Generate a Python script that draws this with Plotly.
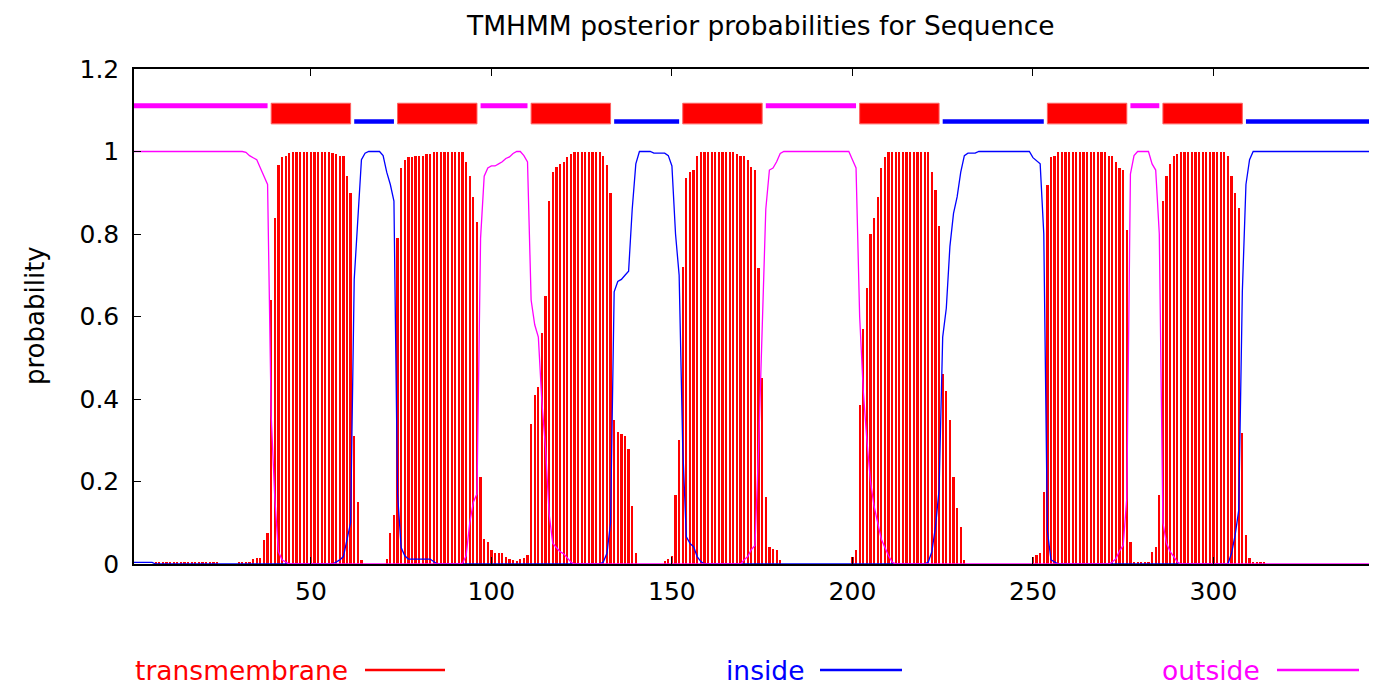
import plotly.graph_objects as go

# residue positions along the sequence
residues = list(range(1, 347))

# posterior probability of transmembrane helix (red impulses), rows of 10 residues
tm_prob = [
    0, 0, 0, 0, 0, 0, 0.004, 0.004, 0.004, 0.004,                              # 1-10
    0.004, 0.004, 0.004, 0.004, 0.004, 0.004, 0.004, 0.004, 0.004, 0.004,      # 11-20
    0.004, 0.004, 0.004, 0.004, 0, 0, 0, 0, 0, 0.004,                          # 21-30
    0.004, 0.004, 0.004, 0.013, 0.015, 0.015, 0.058, 0.076, 0.64, 0.84,        # 31-40
    0.967, 0.987, 0.99, 0.996, 1, 1, 1, 1, 1, 1,                               # 41-50
    1, 1, 1, 1, 1, 0.996, 0.995, 0.99, 0.988, 0.94,                            # 51-60
    0.90, 0.31, 0.15, 0.01, 0, 0, 0, 0, 0, 0,                                  # 61-70
    0.011, 0.076, 0.119, 0.79, 0.96, 0.98, 0.987, 0.987, 0.988, 0.988,         # 71-80
    0.99, 0.995, 0.995, 1, 1, 1, 1, 1, 1, 1,                                   # 81-90
    1, 0.998, 0.975, 0.94, 0.89, 0.83, 0.21, 0.06, 0.054, 0.034,               # 91-100
    0.026, 0.026, 0.026, 0.018, 0.012, 0.01, 0.008, 0.012, 0.014, 0.022,       # 101-110
    0.34, 0.41, 0.43, 0.56, 0.65, 0.88, 0.95, 0.963, 0.97, 0.975,              # 111-120
    0.987, 0.995, 1, 1, 1, 1, 1, 1, 1, 1,                                      # 121-130
    0.99, 0.967, 0.90, 0.35, 0.32, 0.315, 0.31, 0.28, 0.14, 0.027,             # 131-140
    0, 0, 0, 0, 0, 0, 0, 0.008, 0.012, 0.02,                                   # 141-150
    0.167, 0.30, 0.72, 0.935, 0.95, 0.955, 0.99, 1, 1, 1,                      # 151-160
    1, 1, 1, 1, 1, 1, 1, 0.995, 0.99, 0.988,                                   # 161-170
    0.98, 0.963, 0.955, 0.717, 0.45, 0.163, 0.042, 0.037, 0.034, 0.009,        # 171-180
    0, 0, 0, 0, 0, 0, 0, 0, 0, 0,                                              # 181-190
    0, 0, 0, 0, 0, 0, 0, 0, 0, 0.018,                                          # 191-200
    0.034, 0.385, 0.57, 0.67, 0.80, 0.84, 0.89, 0.96, 0.987, 1,                # 201-210
    1, 1, 1, 1, 1, 1, 1, 1, 1, 1,                                              # 211-220
    1, 0.95, 0.907, 0.82, 0.46, 0.42, 0.35, 0.21, 0.135, 0.09,                 # 221-230
    0.009, 0, 0, 0, 0, 0, 0, 0, 0, 0,                                          # 231-240
    0, 0, 0, 0, 0, 0, 0, 0, 0, 0.018,                                          # 241-250
    0.022, 0.026, 0.175, 0.92, 0.987, 0.99, 1, 1, 1, 1,                        # 251-260
    1, 1, 1, 1, 1, 1, 1, 1, 1, 1,                                              # 261-270
    0.99, 0.99, 0.975, 0.96, 0.955, 0.81, 0.054, 0.006, 0.006, 0.006,          # 271-280
    0.006, 0.006, 0.03, 0.042, 0.167, 0.88, 0.94, 0.97, 0.99, 0.995,           # 281-290
    1, 1, 1, 1, 1, 1, 1, 1, 1, 1,                                              # 291-300
    1, 1, 1, 0.99, 0.94, 0.90, 0.862, 0.317, 0.07, 0.014,                      # 301-310
    0.003, 0.003, 0.003, 0.003, 0, 0, 0, 0, 0, 0,                              # 311-320
    0, 0, 0, 0, 0, 0, 0, 0, 0, 0,                                              # 321-330
    0, 0, 0, 0, 0, 0, 0, 0, 0, 0,                                              # 331-340
    0, 0, 0, 0, 0, 0,                                                          # 341-346
]

# posterior probability of inside (blue line)
inside_prob = [
    0.004, 0.004, 0.004, 0.004, 0.004, 0.004, 0, 0, 0, 0,                      # 1-10
    0, 0, 0, 0, 0, 0, 0, 0, 0, 0,                                              # 11-20
    0, 0, 0, 0, 0, 0, 0, 0, 0, 0,                                              # 21-30
    0, 0, 0, 0, 0, 0, 0, 0, 0, 0,                                              # 31-40
    0, 0, 0, 0, 0, 0, 0, 0, 0, 0,                                              # 41-50
    0, 0, 0, 0, 0, 0, 0.005, 0.01, 0.018, 0.057,                               # 51-60
    0.10, 0.69, 0.85, 0.98, 0.996, 1, 1, 1, 1, 0.99,                           # 61-70
    0.95, 0.92, 0.88, 0.17, 0.04, 0.02, 0.012, 0.012, 0.012, 0.012,            # 71-80
    0.012, 0.012, 0.012, 0.006, 0, 0, 0, 0, 0, 0,                              # 81-90
    0, 0, 0, 0, 0, 0, 0, 0, 0, 0,                                              # 91-100
    0, 0, 0, 0, 0, 0, 0, 0, 0, 0,                                              # 101-110
    0, 0, 0, 0, 0, 0, 0, 0, 0, 0,                                              # 111-120
    0, 0, 0, 0, 0, 0, 0, 0, 0, 0,                                              # 121-130
    0.005, 0.026, 0.10, 0.66, 0.685, 0.69, 0.70, 0.71, 0.86, 0.97,             # 131-140
    1, 1, 1, 1, 0.996, 0.996, 0.996, 0.996, 0.99, 0.965,                       # 141-150
    0.80, 0.70, 0.28, 0.066, 0.05, 0.042, 0.018, 0.006, 0, 0,                  # 151-160
    0, 0, 0, 0, 0, 0, 0, 0, 0, 0,                                              # 161-170
    0, 0, 0, 0, 0, 0, 0, 0, 0, 0,                                              # 171-180
    0, 0, 0, 0, 0, 0, 0, 0, 0, 0,                                              # 181-190
    0, 0, 0, 0, 0, 0, 0, 0, 0, 0,                                              # 191-200
    0, 0, 0, 0, 0, 0, 0, 0, 0, 0,                                              # 201-210
    0, 0, 0, 0, 0, 0, 0, 0, 0, 0,                                              # 211-220
    0.005, 0.03, 0.09, 0.18, 0.55, 0.62, 0.77, 0.85, 0.89, 0.95,               # 221-230
    0.99, 0.996, 0.996, 0.996, 1, 1, 1, 1, 1, 1,                               # 231-240
    1, 1, 1, 1, 1, 1, 1, 1, 1, 0.985,                                          # 241-250
    0.978, 0.97, 0.80, 0.08, 0.01, 0.005, 0, 0, 0, 0,                          # 251-260
    0, 0, 0, 0, 0, 0, 0, 0, 0, 0,                                              # 261-270
    0, 0, 0, 0, 0, 0, 0, 0, 0, 0,                                              # 271-280
    0, 0, 0, 0, 0, 0, 0, 0, 0, 0,                                              # 281-290
    0, 0, 0, 0, 0, 0, 0, 0, 0, 0,                                              # 291-300
    0, 0, 0, 0, 0.026, 0.07, 0.13, 0.66, 0.92, 0.98,                           # 301-310
    1, 1, 1, 1, 1, 1, 1, 1, 1, 1,                                              # 311-320
    1, 1, 1, 1, 1, 1, 1, 1, 1, 1,                                              # 321-330
    1, 1, 1, 1, 1, 1, 1, 1, 1, 1,                                              # 331-340
    1, 1, 1, 1, 1, 1,                                                          # 341-346
]

# posterior probability of outside (magenta line)
outside_prob = [
    1, 1, 1, 1, 1, 1, 1, 1, 1, 1,                                              # 1-10
    1, 1, 1, 1, 1, 1, 1, 1, 1, 1,                                              # 11-20
    1, 1, 1, 1, 1, 1, 1, 1, 1, 1,                                              # 21-30
    1, 0.998, 0.99, 0.985, 0.98, 0.96, 0.94, 0.92, 0.36, 0.16,                 # 31-40
    0.03, 0.01, 0.005, 0, 0, 0, 0, 0, 0, 0,                                    # 41-50
    0, 0, 0, 0, 0, 0, 0, 0, 0, 0,                                              # 51-60
    0, 0, 0, 0, 0, 0, 0, 0, 0, 0,                                              # 61-70
    0, 0, 0, 0, 0, 0, 0, 0, 0, 0,                                              # 71-80
    0, 0, 0, 0, 0, 0, 0, 0, 0, 0,                                              # 81-90
    0, 0.002, 0.02, 0.10, 0.15, 0.17, 0.79, 0.94, 0.96, 0.965,                 # 91-100
    0.965, 0.97, 0.975, 0.983, 0.987, 0.995, 1, 1, 0.99, 0.975,                # 101-110
    0.64, 0.58, 0.55, 0.39, 0.28, 0.12, 0.05, 0.04, 0.03, 0.025,               # 111-120
    0.015, 0.005, 0, 0, 0, 0, 0, 0, 0, 0,                                      # 121-130
    0, 0, 0, 0, 0, 0, 0, 0, 0, 0,                                              # 131-140
    0, 0, 0, 0, 0, 0, 0, 0, 0, 0,                                              # 141-150
    0, 0, 0, 0, 0, 0, 0, 0, 0, 0,                                              # 151-160
    0, 0, 0, 0, 0, 0, 0, 0, 0, 0.01,                                           # 161-170
    0.018, 0.035, 0.045, 0.28, 0.55, 0.86, 0.955, 0.96, 0.975, 0.995,          # 171-180
    1, 1, 1, 1, 1, 1, 1, 1, 1, 1,                                              # 181-190
    1, 1, 1, 1, 1, 1, 1, 1, 1, 0.98,                                           # 191-200
    0.96, 0.60, 0.42, 0.30, 0.20, 0.14, 0.10, 0.06, 0.04, 0.02,                # 201-210
    0.005, 0, 0, 0, 0, 0, 0, 0, 0, 0,                                          # 211-220
    0, 0, 0, 0, 0, 0, 0, 0, 0, 0,                                              # 221-230
    0, 0, 0, 0, 0, 0, 0, 0, 0, 0,                                              # 231-240
    0, 0, 0, 0, 0, 0, 0, 0, 0, 0,                                              # 241-250
    0, 0, 0, 0, 0, 0, 0, 0, 0, 0,                                              # 251-260
    0, 0, 0, 0, 0, 0, 0, 0, 0, 0,                                              # 261-270
    0, 0.005, 0.013, 0.032, 0.045, 0.16, 0.945, 0.99, 1, 1,                    # 271-280
    1, 1, 0.97, 0.955, 0.80, 0.10, 0.05, 0.03, 0.018, 0.005,                   # 281-290
    0, 0, 0, 0, 0, 0, 0, 0, 0, 0,                                              # 291-300
    0, 0, 0, 0, 0, 0, 0, 0, 0, 0,                                              # 301-310
    0, 0, 0, 0, 0, 0, 0, 0, 0, 0,                                              # 311-320
    0, 0, 0, 0, 0, 0, 0, 0, 0, 0,                                              # 321-330
    0, 0, 0, 0, 0, 0, 0, 0, 0, 0,                                              # 331-340
    0, 0, 0, 0, 0, 0,                                                          # 341-346
]

# predicted topology segments (drawn above the curves)
seg_start = [1, 39, 62, 74, 97, 111, 134, 153, 176, 202, 225, 254, 277, 286, 309]
seg_end = [38, 61, 73, 96, 110, 133, 152, 175, 201, 224, 253, 276, 285, 308, 346]
seg_type = ["outside", "TMhelix", "inside", "TMhelix", "outside", "TMhelix", "inside",
            "TMhelix", "outside", "TMhelix", "inside", "TMhelix", "outside", "TMhelix", "inside"]

x_ticks = [50, 100, 150, 200, 250, 300]
y_ticks = [0, 0.2, 0.4, 0.6, 0.8, 1.0, 1.2]
y_tick_text = ["0", "0.2", "0.4", "0.6", "0.8", "1", "1.2"]

title_text = "TMHMM posterior probabilities for Sequence"
legend_names = ["transmembrane", "inside", "outside"]
legend_colors = ["#ff0000", "#0000ff", "#ff00ff"]

RED, BLUE, MAGENTA = "#ff0000", "#0000ff", "#ff00ff"
FONT = "DejaVu Sans"

# the page places the figure 8 px in from the top-left corner of the window
OFF = 8
W, H = 1377, 687
# target plot area on screen: x 134..1377, y 69..564
ML, MT = 134 - OFF, 69 - OFF
MR = (W + OFF) - 1377
MB = (H + OFF) - 564
PW = W - ML - MR
PH = H - MT - MB

fig = go.Figure()
fig.add_trace(go.Bar(x=residues, y=tm_prob, width=0.62,
                     marker=dict(color=RED, line=dict(width=0)), showlegend=False))
fig.add_trace(go.Scatter(x=residues, y=inside_prob, mode="lines",
                         line=dict(color=BLUE, width=1.3), showlegend=False))
fig.add_trace(go.Scatter(x=residues, y=outside_prob, mode="lines",
                         line=dict(color=MAGENTA, width=1.3), showlegend=False))

shapes = []
for s, e, t in zip(seg_start, seg_end, seg_type):
    if t == "TMhelix":
        shapes.append(dict(type="rect", xref="x", yref="y", x0=s, x1=e, y0=1.067, y1=1.117,
                           fillcolor=RED, line=dict(color="#ff6060", width=1), layer="above"))
    elif t == "inside":
        shapes.append(dict(type="line", xref="x", yref="y", x0=s, x1=e, y0=1.073, y1=1.073,
                           line=dict(color=BLUE, width=4.5), layer="above"))
    else:
        shapes.append(dict(type="line", xref="x", yref="y", x0=s, x1=e, y0=1.111, y1=1.111,
                           line=dict(color=MAGENTA, width=5), layer="above"))


def sx(px):
    """screen x pixel -> paper coordinate"""
    return (px - OFF - ML) / PW


def sy(py):
    """screen y pixel -> paper coordinate"""
    return (H - MB - (py - OFF)) / PH


annotations = []
# legend (gnuplot-style key: text followed by a line sample)
legend_text_right = [350, 806, 1262]
legend_line_x = [(365, 445), (820, 902), (1277, 1359)]
legend_y = 670
for name, col, tx, (lx0, lx1) in zip(legend_names, legend_colors, legend_text_right, legend_line_x):
    annotations.append(dict(text=name, xref="paper", yref="paper",
                            x=sx(tx), y=sy(legend_y),
                            xanchor="right", yanchor="middle", showarrow=False,
                            font=dict(family=FONT, size=26.5, color=col)))
    shapes.append(dict(type="line", xref="paper", yref="paper",
                       x0=sx(lx0), x1=sx(lx1), y0=sy(legend_y), y1=sy(legend_y),
                       line=dict(color=col, width=2.5)))

# y axis title
annotations.append(dict(text="probability", xref="paper", yref="paper",
                        x=sx(35), y=sy(316),
                        xanchor="center", yanchor="middle", textangle=-90, showarrow=False,
                        font=dict(family=FONT, size=26, color="black")))

# title
annotations.append(dict(text=title_text, xref="paper", yref="paper",
                        x=sx(760), y=sy(25), xanchor="center", yanchor="middle",
                        showarrow=False, font=dict(family=FONT, size=26.5, color="black")))

fig.update_layout(
    width=W, height=H,
    margin=dict(l=ML, r=MR, t=MT, b=MB),
    paper_bgcolor="white", plot_bgcolor="white",
    shapes=shapes,
    annotations=annotations,
    showlegend=False,
    bargap=0,
    xaxis=dict(range=[1, 345.3], tickvals=x_ticks, ticks="inside", ticklen=7, tickwidth=1,
               tickcolor="black", showline=True, linecolor="black", linewidth=1.5,
               mirror="ticks", showgrid=False, zeroline=False, ticklabelstandoff=4,
               tickfont=dict(family=FONT, size=25, color="black")),
    yaxis=dict(range=[0, 1.2], tickvals=y_ticks, ticktext=y_tick_text, ticks="inside",
               ticklen=7, tickwidth=1, tickcolor="black", showline=True, linecolor="black",
               linewidth=1.5, mirror=False, showgrid=False, zeroline=False,
               ticklabelstandoff=8,
               tickfont=dict(family=FONT, size=25, color="black")),
)

fig.write_html("out.html")
